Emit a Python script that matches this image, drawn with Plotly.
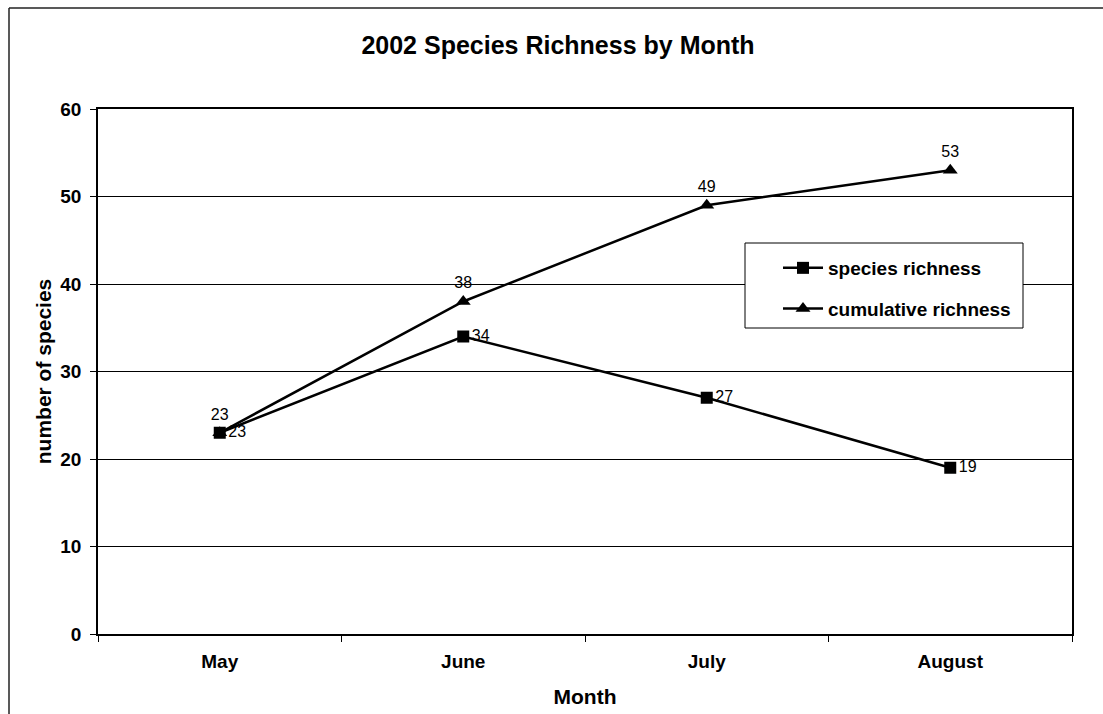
import plotly.graph_objects as go

# Monthly survey results, 2002
months = ["May", "June", "July", "August"]
species_richness = [23, 34, 27, 19]
cumulative_richness = [23, 38, 49, 53]

FONT = "Liberation Sans, Arial, sans-serif"

# Plot-area geometry in pixels (figure is 1103 x 714)
W, H = 1103, 714
ML, MR, MT, MB = 98, 31, 109, 80
PW, PH = W - ML - MR, H - MT - MB


def px_to_paper_x(px):
    return (px - ML) / PW


def px_to_paper_y(py):
    return (H - MB - py) / PH


fig = go.Figure()

fig.add_trace(go.Scatter(
    x=months, y=species_richness, name="<b>species richness</b>",
    mode="lines+markers+text",
    line=dict(color="black", width=2.5),
    marker=dict(symbol="square", size=12, color="black"),
    text=[str(v) for v in species_richness],
    textposition="middle right",
    textfont=dict(family=FONT, size=16, color="black"),
    legendgroup="a",
))

fig.add_trace(go.Scatter(
    x=months, y=cumulative_richness, name="<b>cumulative richness</b>",
    mode="lines+markers+text",
    line=dict(color="black", width=2.5),
    marker=dict(symbol="triangle-up", size=13, color="black"),
    text=[str(v) for v in cumulative_richness],
    textposition="top center",
    textfont=dict(family=FONT, size=16, color="black"),
    legendgroup="b",
))

shapes = [
    # outer chart frame (left and top edges)
    dict(type="line", xref="paper", yref="paper",
         x0=px_to_paper_x(9), x1=px_to_paper_x(9),
         y0=px_to_paper_y(8), y1=px_to_paper_y(716),
         line=dict(color="#222", width=1.5)),
    dict(type="line", xref="paper", yref="paper",
         x0=px_to_paper_x(9), x1=px_to_paper_x(1105),
         y0=px_to_paper_y(8), y1=px_to_paper_y(8),
         line=dict(color="#222", width=1.5)),
    # legend box
    dict(type="rect", xref="paper", yref="paper", layer="above",
         x0=px_to_paper_x(745), x1=px_to_paper_x(1023),
         y0=px_to_paper_y(328), y1=px_to_paper_y(243),
         fillcolor="white", line=dict(color="black", width=1)),
]

fig.update_layout(
    width=W, height=H,
    margin=dict(l=ML, r=MR, t=MT, b=MB, autoexpand=False),
    paper_bgcolor="white", plot_bgcolor="white",
    font=dict(family=FONT, color="black"),
    title=dict(
        text="<b>2002 Species Richness by Month</b>",
        font=dict(family=FONT, size=25, color="black"),
        xref="container", x=558 / W, xanchor="center",
        yref="container", y=1 - 45 / H, yanchor="middle",
    ),
    showlegend=True,
    legend=dict(
        x=px_to_paper_x(778), y=px_to_paper_y(249),
        xanchor="left", yanchor="top",
        bgcolor="rgba(0,0,0,0)", borderwidth=0,
        font=dict(family=FONT, size=19, color="black"),
        tracegroupgap=13,
        itemwidth=40,
    ),
    shapes=shapes,
)

fig.update_xaxes(
    type="category", range=[-0.5, 3.5], automargin=False,
    tickson="boundaries", ticks="outside", ticklen=6, tickcolor="black",
    ticklabelstandoff=9,
    showline=True, linecolor="black", linewidth=1.5, mirror=True,
    showgrid=False,
    tickfont=dict(family=FONT, size=19, color="black"),
    tickprefix="<b>", ticksuffix="</b>",
    title=dict(text="<b>Month</b>", font=dict(family=FONT, size=21, color="black"),
               standoff=19),
)

fig.update_yaxes(
    range=[0, 60], dtick=10, tick0=0, automargin=False,
    ticks="outside", ticklen=6, tickcolor="black",
    ticklabelstandoff=5,
    showline=True, linecolor="black", linewidth=1.5, mirror=True,
    showgrid=True, gridcolor="black", gridwidth=1,
    zeroline=False,
    tickfont=dict(family=FONT, size=19, color="black"),
    tickprefix="<b>", ticksuffix="</b>",
    title=dict(text="<b>number of species</b>",
               font=dict(family=FONT, size=21, color="black"),
               standoff=3),
)

fig.write_html("out.html")
